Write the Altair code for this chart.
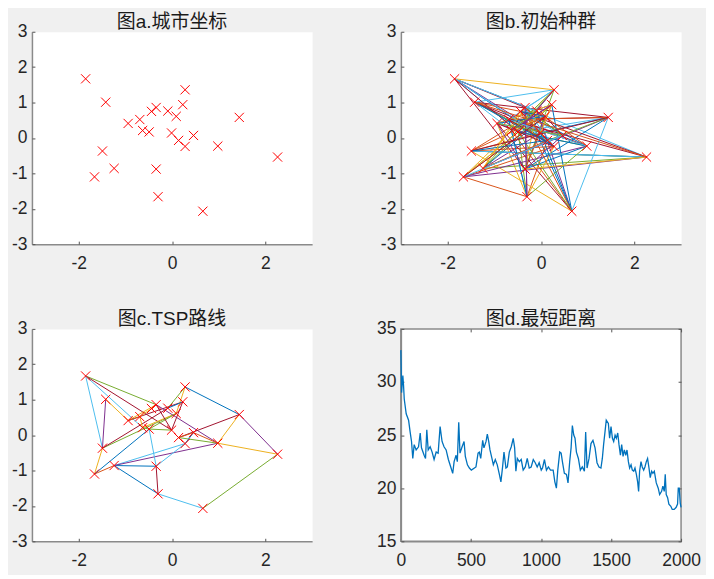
import altair as alt
import pandas as pd

# ---------------- data ----------------
city_x = [-1.85, -1.42, -1.49, -1.66, -1.24, -0.94, -0.69, -0.63, -0.49, -0.44, -0.34, -0.34, -0.30,
          -0.09, 0.09, -0.01, 0.14, 0.28, 0.23, 0.28, 0.46, 0.66, 0.98, 1.44, 2.26]
city_y = [1.67, 1.01, -0.37, -1.10, -0.86, 0.41, 0.52, 0.21, 0.17, 0.75, 0.86, -0.88, -1.66,
          0.76, 0.61, 0.14, -0.07, -0.24, 0.94, 1.36, 0.07, -2.07, -0.23, 0.58, -0.54]

matlab_colors = ["#0072BD", "#D95319", "#EDB120", "#7E2F8E", "#77AC30", "#4DBEEE", "#A2142F"]
color_codes = ["B", "O", "Y", "P", "G", "L", "R"]

# initial population (closed routes of city numbers, 1-based)
routes = [
    [1, 14, 3, 25, 4, 9, 24, 2, 17, 13, 6, 19, 5, 21, 11, 22, 8, 15, 12, 20, 7, 23, 10, 18, 16],
    [5, 25, 11, 1, 18, 4, 20, 9, 13, 7, 24, 16, 3, 22, 14, 8, 2, 23, 12, 19, 6, 17, 10, 21, 15],
    [2, 15, 4, 23, 9, 1, 12, 24, 7, 16, 5, 20, 10, 25, 3, 18, 13, 11, 21, 6, 22, 19, 8, 14, 17],
    [3, 25, 7, 13, 4, 19, 8, 20, 2, 16, 22, 10, 5, 24, 17, 1, 9, 23, 14, 12, 21, 11, 18, 6, 15],
    [1, 20, 9, 22, 24, 3, 17, 5, 11, 13, 23, 7, 18, 2, 25, 12, 6, 21, 4, 15, 10, 16, 19, 8, 14],
]

# TSP route segments (from city, to city, colour code)
seg_from = [1, 1, 1, 1, 2, 2, 3, 4, 4, 3, 3, 5, 5, 5, 5, 12, 13, 9, 12, 6, 6, 7, 6, 8, 9,
            20, 20, 19, 11, 11, 20, 24, 25, 24, 23, 17, 17, 21, 18, 16, 7, 10, 8, 17, 9]
seg_to = [3, 11, 16, 8, 3, 6, 4, 5, 9, 15, 14, 12, 13, 18, 23, 13, 22, 12, 18, 11, 19, 8, 7, 15, 15,
          15, 14, 14, 23, 16, 24, 25, 22, 23, 25, 24, 23, 23, 21, 19, 10, 11, 9, 21, 16]
seg_col = ["L", "G", "R", "L", "P", "Y", "Y", "O", "B", "G", "R", "B", "B", "L", "P", "R", "L", "L", "L",
           "Y", "R", "Y", "O", "Y", "G", "Y", "G", "B", "P", "R", "B", "P", "G", "Y", "Y", "R", "G", "O",
           "B", "R", "Y", "O", "G", "O", "G"]

# shortest distance per generation
gen = [0, 5, 14, 19, 24, 38, 55, 66, 76, 85, 95, 109, 126, 138, 147, 166, 176, 185, 195, 209,
       223, 237, 252, 266, 280, 294, 308, 323, 339, 356, 370, 380, 394, 403, 413, 422, 437, 451, 460, 475,
       489, 503,
       536, 551, 560, 570, 584, 593, 608, 617, 627, 636, 650, 660, 674, 688, 703, 714, 726, 736, 750, 760,
       774, 788, 802, 812, 821, 831, 845, 859, 873, 888, 902, 916, 930, 945, 959, 973, 987, 1002,
       1011, 1025, 1039, 1053, 1068, 1087, 1099, 1110, 1120, 1134, 1144, 1153, 1167, 1182, 1193, 1205,
       1215, 1224, 1234, 1243, 1253, 1267, 1281, 1295, 1310, 1319, 1329, 1343, 1357, 1371, 1386, 1400,
       1414, 1428, 1438, 1447, 1457, 1466, 1481, 1490, 1500,
       1510, 1519, 1529, 1538, 1548, 1557, 1567, 1576, 1586, 1595, 1605, 1614, 1624, 1633, 1643, 1652,
       1662, 1671, 1681, 1690, 1697, 1704, 1714, 1723, 1733, 1742, 1752, 1761, 1771, 1780, 1790, 1799,
       1809, 1823, 1837, 1847, 1861, 1870, 1880, 1887, 1894, 1904, 1913, 1927, 1937, 1951, 1965, 1975,
       1980, 1987, 1994, 2000]
dist = [33.0, 29.0, 30.6, 29.7, 28.4, 27.0, 26.4, 25.3, 24.4, 22.8, 24.1, 23.6, 23.9, 25.2, 23.8, 23.1,
        22.8, 25.5, 23.6, 23.9, 23.4, 22.7, 23.4, 23.3, 25.8, 24.4, 23.9, 23.6, 22.7, 22.0, 21.4, 22.5,
        23.1, 22.5, 26.2, 23.3, 23.9, 24.4, 23.0, 22.2, 21.9, 21.7,
        22.0, 23.3, 23.4, 22.8, 24.5, 23.8, 24.4, 25.1, 24.4, 23.6, 22.8, 22.2, 22.7, 22.2, 21.3, 20.6,
        22.0, 23.4, 21.9, 22.0, 23.4, 23.9, 24.7, 23.8, 21.6, 22.8, 22.5, 22.7, 21.7, 22.0, 22.8, 21.9,
        22.0, 22.7, 22.4, 22.0, 22.4, 21.7,
        21.9, 22.7, 21.7, 22.0, 21.7, 21.7, 20.6, 20.0, 21.7, 23.4, 23.3, 22.5, 21.4, 21.3, 20.5, 22.5,
        23.8, 25.9, 25.0, 24.7, 23.4, 22.8, 21.7, 22.0, 21.6, 25.3, 21.9, 22.8, 24.2, 24.5, 23.8, 22.4,
        22.0, 21.9, 22.8, 24.1, 25.3, 26.4, 26.1, 24.7, 25.8,
        24.7, 24.4, 25.0, 24.7, 25.2, 24.1, 23.1, 24.1, 23.0, 23.6, 23.1, 23.6, 22.5, 21.9, 22.2, 21.7,
        21.6, 21.9, 21.3, 20.6, 19.7, 21.6, 22.5, 22.0, 21.7, 22.0, 22.5, 22.8, 21.9, 21.0, 21.6, 21.4,
        21.6, 20.5, 20.0, 19.4, 19.7, 20.2, 19.7, 21.3, 19.4, 19.1, 18.5, 18.3, 18.0, 18.0, 18.2, 18.5,
        20.0, 20.0, 18.6, 18.2]

xy_ticks = [-3, -2, -1, 0, 1, 2, 3]
x_ticks_abc = [-2, 0, 2]
gen_ticks = [0, 500, 1000, 1500, 2000]
dist_ticks = [15, 20, 25, 30, 35]

titles = ["图a.城市坐标", "图b.初始种群", "图c.TSP路线", "图d.最短距离"]

# ---------------- tables ----------------
cities = pd.DataFrame({"x": city_x, "y": city_y})

pop_rows = []
k = 0
for route in routes:
    closed = route + [route[0]]
    for a, b in zip(closed[:-1], closed[1:]):
        pop_rows.append({"x": city_x[a - 1], "y": city_y[a - 1],
                         "x2": city_x[b - 1], "y2": city_y[b - 1],
                         "c": color_codes[k % 7], "i": k})
        k += 1
pop_df = pd.DataFrame(pop_rows)

segs_df = pd.DataFrame({
    "x": [city_x[a - 1] for a in seg_from], "y": [city_y[a - 1] for a in seg_from],
    "x2": [city_x[b - 1] for b in seg_to], "y2": [city_y[b - 1] for b in seg_to],
    "c": seg_col, "i": list(range(len(seg_col))),
})
dist_df = pd.DataFrame({"gen": gen, "dist": dist})

# ---------------- styling helpers ----------------
FONT = "Liberation Sans"
TITLE_FONT = "Liberation Sans, Noto Sans CJK SC"
AX_COL = "#8a8a8a"
LBL_COL = "#262626"
TICK_COL = "#555555"
W, H = 281, 213
X_SHAPE = "M-1,-1L1,1M-1,1L1,-1"
LABEL_EXPR = "datum.value < 0 ? '-' + abs(datum.value) : '' + datum.value"


def main_axis(values, orient):
    return alt.Axis(values=values, orient=orient, title=None, grid=False, ticks=False,
                    domain=True, domainColor=AX_COL, domainWidth=1.5,
                    labelFont=FONT, labelFontSize=17.5, labelColor=LBL_COL,
                    labelExpr=LABEL_EXPR,
                    labelPadding=5 if orient in ("left", "right") else 10,
                    labelFlush=False, labelOverlap=False)


def tick_axis(values, orient):
    return alt.Axis(values=values, orient=orient, title=None, grid=False, ticks=True,
                    tickSize=3, tickColor=TICK_COL, tickWidth=1, domain=False,
                    labels=False, offset=-3)


def title(t):
    return alt.TitleParams(text=t, font=TITLE_FONT, fontSize=19, fontWeight="normal",
                           color="#1a1a1a", offset=-9, anchor="middle")


sxy = alt.Scale(domain=[-3, 3], nice=False, zero=False)
col_scale = alt.Scale(domain=color_codes, range=matlab_colors)


def markers(xa, ya, opacity=1.0):
    return alt.Chart(cities).mark_point(shape=X_SHAPE, size=85, color="#FF0000", filled=False,
                                        strokeWidth=1, opacity=opacity).encode(
        x=alt.X("x:Q", scale=sxy, axis=xa), y=alt.Y("y:Q", scale=sxy, axis=ya))


def segments(df):
    return alt.Chart(df).mark_rule(strokeWidth=1).encode(
        x=alt.X("x:Q", scale=sxy, axis=main_axis(x_ticks_abc, "bottom")),
        y=alt.Y("y:Q", scale=sxy, axis=main_axis(xy_ticks, "left")),
        x2="x2:Q", y2="y2:Q",
        color=alt.Color("c:N", scale=col_scale, legend=None),
        order="i:Q",
    )


# panel a
pa = alt.layer(
    markers(main_axis(x_ticks_abc, "bottom"), main_axis(xy_ticks, "left"), opacity=0.0),
    markers(tick_axis(x_ticks_abc, "bottom"), tick_axis(xy_ticks, "left")),
).resolve_axis(x="independent", y="independent").properties(width=W, height=H, title=title(titles[0]))

# panel b
pb = alt.layer(
    segments(pop_df),
    markers(tick_axis(x_ticks_abc, "bottom"), tick_axis(xy_ticks, "left")),
).resolve_axis(x="independent", y="independent").properties(width=W, height=H, title=title(titles[1]))

# panel c
pc = alt.layer(
    segments(segs_df),
    markers(tick_axis(x_ticks_abc, "bottom"), tick_axis(xy_ticks, "left")),
).resolve_axis(x="independent", y="independent").properties(width=W, height=H, title=title(titles[2]))

# panel d
sg = alt.Scale(domain=[0, 2000], nice=False, zero=False)
sd = alt.Scale(domain=[15, 35], nice=False, zero=False)


def dline(xa, ya, opacity=1.0):
    return alt.Chart(dist_df).mark_line(strokeWidth=1.3, color="#0072BD", opacity=opacity).encode(
        x=alt.X("gen:Q", scale=sg, axis=xa), y=alt.Y("dist:Q", scale=sd, axis=ya))


pd_ = alt.layer(
    dline(main_axis(gen_ticks, "bottom"), main_axis(dist_ticks, "left")),
    dline(tick_axis(gen_ticks, "bottom"), tick_axis(dist_ticks, "left"), opacity=0.0),
    dline(tick_axis(gen_ticks, "top"), tick_axis(dist_ticks, "right"), opacity=0.0),
).resolve_axis(x="independent", y="independent").properties(
    width=W, height=H, title=title(titles[3]),
    view=alt.ViewBackground(fill="white", stroke=AX_COL, strokeWidth=1.5))

chart = alt.concat(
    pa, pb, pc, pd_, columns=2, spacing={"row": 85, "column": 89}, bounds="flush"
).properties(
    padding={"left": 2, "top": 3, "right": 4, "bottom": 4}
).configure(background="#F0F0F0").configure_view(fill="white", stroke="transparent")

chart.save("out.html", embed_options={"renderer": "svg", "actions": False})
